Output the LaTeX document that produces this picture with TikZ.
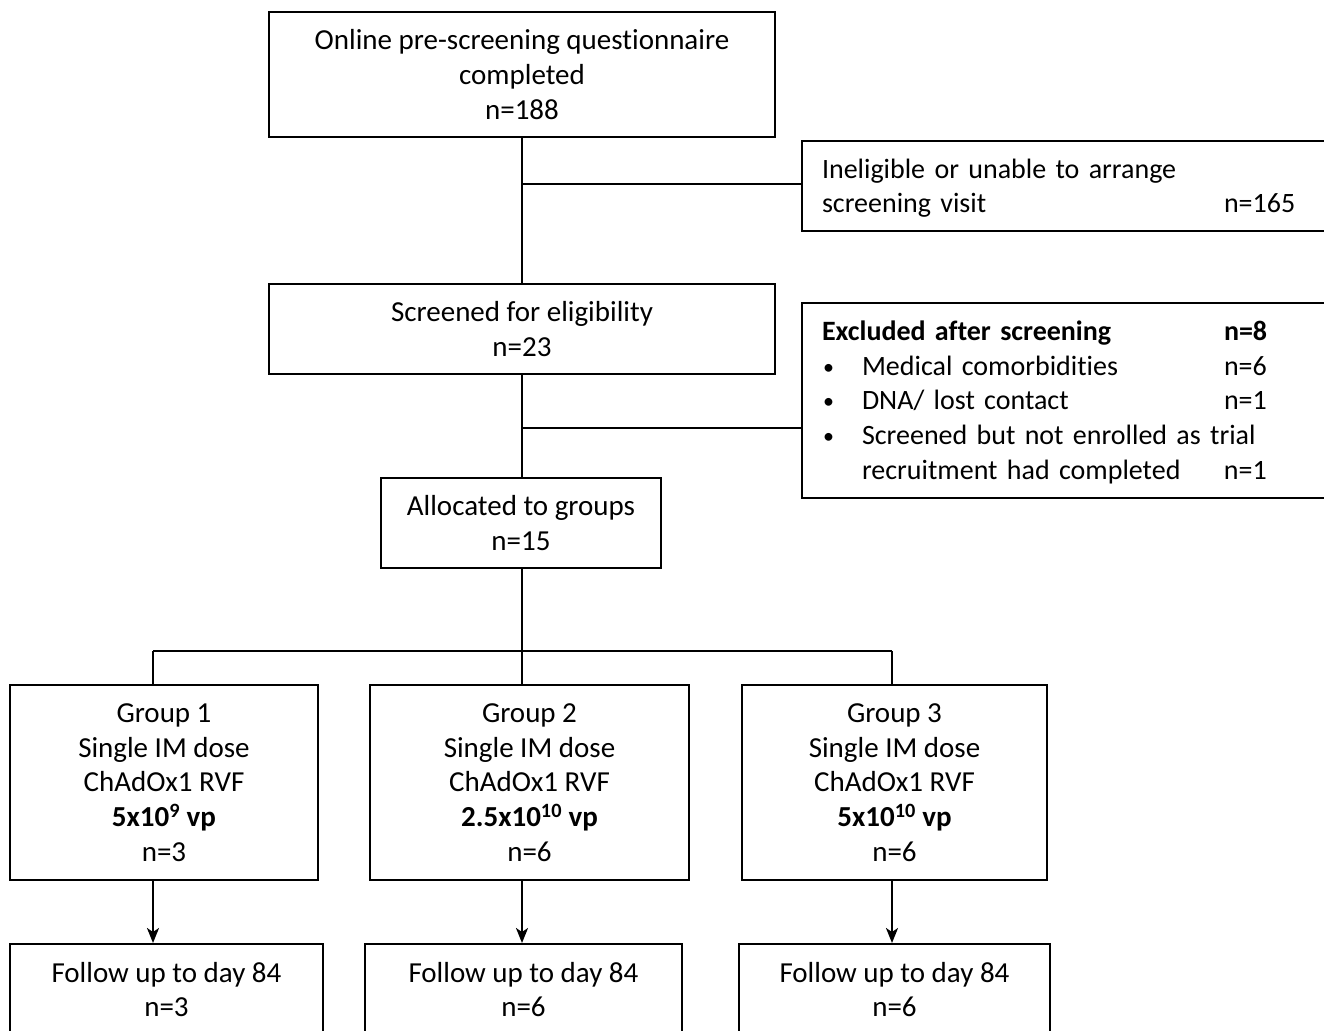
\documentclass[tikz,border=0pt]{standalone}
\usepackage{fontspec}
\setmainfont{Carlito}[Ligatures=NoCommon]
\usetikzlibrary{arrows.meta}
\newcommand{\bul}{\raisebox{1pt}{\fontsize{22}{22}\selectfont •}}
\begin{document}
\begin{tikzpicture}[x=1pt,y=-1pt,
  box/.style={draw=black, line width=2pt, inner sep=0pt, align=center,
    font=\fontsize{29}{34.7}\selectfont},
  sidebox/.style={draw=black, line width=2pt, inner xsep=20pt, inner ysep=0pt, anchor=west,
    font=\fontsize{28}{34.7}\selectfont},
  conn/.style={draw=black, line width=1.1pt},
  arr/.style={draw=black, line width=2.2pt, -{Stealth[length=15pt,width=12pt,inset=4pt]}}]
\useasboundingbox (0,0) rectangle (1324,1030);
\clip (0,0) rectangle (1324,1030);
% main column
\node[box, minimum width=506pt, minimum height=125pt] (top) at (522,74.5)
  {Online pre-screening questionnaire\\completed\\n=188};
\node[box, minimum width=506pt, minimum height=90pt] (scr) at (522,329)
  {Screened for eligibility\\n=23};
\node[box, minimum width=280pt, minimum height=90pt] (alloc) at (521,523)
  {Allocated to groups\\n=15};
% side boxes
\node[sidebox, minimum width=560pt, minimum height=90pt, text width=520pt] (inel) at (801,186)
  {\raisebox{-2.5pt}[\height][\depth]{\begin{tabular}{@{}l@{}l@{}}\makebox[402pt][l]{Ineligible or unable to arrange} & \\ \makebox[402pt][l]{screening visit} & n=165\end{tabular}}};
\node[sidebox, minimum width=560pt, minimum height=195pt, text width=520pt] (excl) at (801,400.5)
  {\raisebox{-2.5pt}[\height][\depth]{\begin{tabular}{@{}l@{}l@{}l@{}}
   \multicolumn{2}{@{}l@{}}{\makebox[402pt][l]{\bfseries Excluded after screening}} & \bfseries n=8\\
   \makebox[40pt][l]{\hspace*{1pt}\bul} & \makebox[362pt][l]{Medical comorbidities} & n=6\\
   \makebox[40pt][l]{\hspace*{1pt}\bul} & \makebox[362pt][l]{DNA/ lost contact} & n=1\\
   \makebox[40pt][l]{\hspace*{1pt}\bul} & \makebox[362pt][l]{Screened but not enrolled as trial} & \\
   \makebox[40pt][l]{} & \makebox[362pt][l]{recruitment had completed} & n=1
  \end{tabular}}};
% groups
\node[box, minimum width=308pt, minimum height=195pt] (g1) at (164,782.5)
  {Group 1\\Single IM dose\\ChAdOx1 RVF\\\textbf{5x10\textsuperscript{9} vp}\\n=3};
\node[box, minimum width=319pt, minimum height=195pt] (g2) at (529.5,782.5)
  {Group 2\\Single IM dose\\ChAdOx1 RVF\\\textbf{2.5x10\textsuperscript{10} vp}\\n=6};
\node[box, minimum width=305pt, minimum height=195pt] (g3) at (894.5,782.5)
  {Group 3\\Single IM dose\\ChAdOx1 RVF\\\textbf{5x10\textsuperscript{10} vp}\\n=6};
% follow up
\node[box, minimum width=313pt, minimum height=91pt] (f1) at (166.5,989.5)
  {Follow up to day 84\\n=3};
\node[box, minimum width=317pt, minimum height=91pt] (f2) at (523.5,989.5)
  {Follow up to day 84\\n=6};
\node[box, minimum width=311pt, minimum height=91pt] (f3) at (894.5,989.5)
  {Follow up to day 84\\n=6};
% connectors
\coordinate (b1) at (522,184);
\coordinate (b2) at (522,428);
\coordinate (sp) at (522,651);
\coordinate (j1) at (153,651);
\coordinate (j3) at (892,651);
\draw[conn] (top.south) -- (scr.north);
\draw[conn] (b1) -- (b1 -| inel.west);
\draw[conn] (scr.south) -- (scr.south |- alloc.north);
\draw[conn] (b2) -- (b2 -| excl.west);
\draw[conn] (sp |- alloc.south) -- (sp);
\draw[conn] (j1) -- (j3);
\draw[conn] (j1) -- (j1 |- g1.north);
\draw[conn] (sp) -- (sp |- g2.north);
\draw[conn] (j3) -- (j3 |- g3.north);
\draw[arr] (j1 |- g1.south) -- (j1 |- f1.north);
\draw[arr] (sp |- g2.south) -- (sp |- f2.north);
\draw[arr] (j3 |- g3.south) -- (j3 |- f3.north);
\end{tikzpicture}
\end{document}
